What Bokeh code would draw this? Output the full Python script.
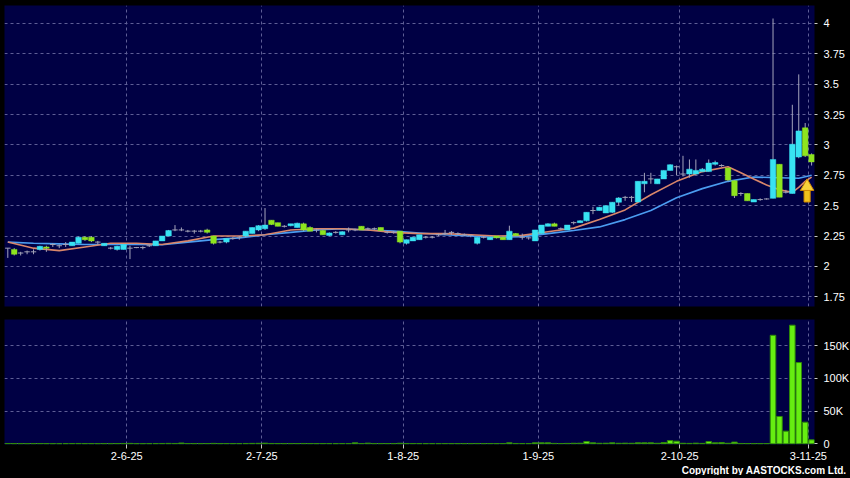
from bokeh.plotting import figure
from bokeh.layouts import column
from bokeh.models import Range1d, FixedTicker, CustomJSTickFormatter, Title, ColumnDataSource
from bokeh.embed import file_html
from bokeh.resources import INLINE

# ---------------- data ----------------
opens = [
    2.15, 2.14, 2.11, 2.12, 2.12, 2.14, 2.16, 2.18, 2.17, 2.18,
    2.17, 2.19, 2.24, 2.24, 2.20, 2.17, 2.15, 2.14, 2.14, 2.15,
    2.155, 2.155, 2.17, 2.17, 2.21, 2.25, 2.30, 2.30, 2.29, 2.29,
    2.29, 2.30, 2.25, 2.20, 2.20, 2.23, 2.24, 2.25, 2.27, 2.30,
    2.31, 2.38, 2.36, 2.33, 2.335, 2.32, 2.35, 2.32, 2.30, 2.295,
    2.255, 2.28, 2.26, 2.30, 2.30, 2.33, 2.31, 2.31, 2.32, 2.28,
    2.28, 2.29, 2.19, 2.21, 2.22, 2.24, 2.24, 2.26, 2.27, 2.28,
    2.27, 2.26, 2.255, 2.19, 2.24, 2.22, 2.25, 2.24, 2.22, 2.27,
    2.24, 2.235, 2.21, 2.27, 2.33, 2.35, 2.31, 2.30, 2.36, 2.36,
    2.375, 2.46, 2.46, 2.44, 2.445, 2.528, 2.568, 2.568, 2.53, 2.68,
    2.72, 2.68, 2.72, 2.79, 2.82, 2.76, 2.76, 2.76, 2.78, 2.78,
    2.84, 2.83, 2.81, 2.705, 2.60, 2.60, 2.53, 2.55, 2.555, 2.56,
    2.84, 2.61, 2.60, 2.90, 3.14, 2.92,
]
highs = [
    2.15, 2.15, 2.12, 2.13, 2.14, 2.17, 2.17, 2.19, 2.18, 2.20,
    2.20, 2.245, 2.25, 2.25, 2.21, 2.19, 2.16, 2.17, 2.18, 2.17,
    2.16, 2.165, 2.18, 2.21, 2.25, 2.30, 2.34, 2.32, 2.30, 2.30,
    2.30, 2.31, 2.25, 2.21, 2.23, 2.24, 2.25, 2.29, 2.32, 2.34,
    2.48, 2.38, 2.36, 2.34, 2.35, 2.36, 2.36, 2.33, 2.31, 2.30,
    2.28, 2.29, 2.29, 2.32, 2.31, 2.33, 2.32, 2.32, 2.32, 2.29,
    2.29, 2.29, 2.22, 2.24, 2.26, 2.25, 2.25, 2.27, 2.30, 2.29,
    2.28, 2.27, 2.26, 2.24, 2.25, 2.245, 2.25, 2.245, 2.335, 2.275,
    2.27, 2.24, 2.30, 2.34, 2.355, 2.36, 2.32, 2.34, 2.37, 2.38,
    2.445, 2.49, 2.49, 2.50, 2.53, 2.57, 2.58, 2.58, 2.70, 2.77,
    2.77, 2.72, 2.79, 2.84, 2.83, 2.91, 2.88, 2.88, 2.81, 2.88,
    2.87, 2.84, 2.81, 2.71, 2.61, 2.60, 2.55, 2.56, 2.56, 4.04,
    2.84, 2.63, 3.33, 3.58, 3.18, 2.93,
]
lows = [
    2.07, 2.09, 2.09, 2.10, 2.10, 2.13, 2.12, 2.16, 2.15, 2.16,
    2.17, 2.19, 2.21, 2.20, 2.18, 2.17, 2.14, 2.13, 2.14, 2.06,
    2.15, 2.14, 2.16, 2.17, 2.21, 2.25, 2.29, 2.29, 2.28, 2.27,
    2.28, 2.27, 2.18, 2.19, 2.19, 2.22, 2.22, 2.24, 2.27, 2.29,
    2.30, 2.34, 2.33, 2.32, 2.33, 2.32, 2.29, 2.29, 2.28, 2.26,
    2.25, 2.27, 2.26, 2.28, 2.29, 2.30, 2.30, 2.30, 2.29, 2.27,
    2.27, 2.19, 2.18, 2.21, 2.22, 2.23, 2.23, 2.25, 2.26, 2.26,
    2.26, 2.25, 2.24, 2.18, 2.23, 2.22, 2.23, 2.22, 2.22, 2.25,
    2.22, 2.22, 2.21, 2.27, 2.33, 2.33, 2.30, 2.30, 2.345, 2.36,
    2.37, 2.43, 2.46, 2.44, 2.44, 2.50, 2.54, 2.53, 2.53, 2.61,
    2.68, 2.68, 2.72, 2.79, 2.75, 2.74, 2.73, 2.76, 2.78, 2.78,
    2.83, 2.82, 2.70, 2.563, 2.58, 2.54, 2.53, 2.54, 2.55, 2.56,
    2.57, 2.60, 2.60, 2.89, 2.90, 2.83,
]
closes = [
    2.15, 2.10, 2.11, 2.12, 2.12, 2.165, 2.15, 2.18, 2.17, 2.18,
    2.20, 2.24, 2.22, 2.21, 2.20, 2.19, 2.15, 2.165, 2.18, 2.15,
    2.155, 2.155, 2.17, 2.21, 2.25, 2.295, 2.30, 2.30, 2.29, 2.29,
    2.29, 2.28, 2.19, 2.20, 2.23, 2.23, 2.24, 2.29, 2.32, 2.335,
    2.34, 2.345, 2.33, 2.33, 2.35, 2.355, 2.30, 2.29, 2.30, 2.26,
    2.275, 2.28, 2.286, 2.30, 2.30, 2.30, 2.31, 2.31, 2.295, 2.28,
    2.28, 2.20, 2.22, 2.24, 2.26, 2.24, 2.24, 2.26, 2.27, 2.28,
    2.27, 2.26, 2.255, 2.24, 2.24, 2.24, 2.235, 2.22, 2.29, 2.255,
    2.24, 2.235, 2.30, 2.34, 2.35, 2.33, 2.31, 2.34, 2.36, 2.375,
    2.445, 2.46, 2.486, 2.50, 2.528, 2.563, 2.568, 2.568, 2.70, 2.70,
    2.72, 2.72, 2.79, 2.836, 2.82, 2.76, 2.80, 2.79, 2.80, 2.85,
    2.855, 2.83, 2.71, 2.582, 2.60, 2.54, 2.55, 2.55, 2.555, 2.88,
    2.57, 2.61, 3.005, 3.115, 2.91, 2.86,
]
# volume in thousands of shares
volumes_k = [
    0.5, 0.3, 0.3, 0.2, 0.3, 0.4, 0.3, 0.2, 0.2, 0.3,
    0.4, 0.5, 0.3, 0.3, 0.2, 0.3, 0.2, 0.4, 0.5, 0.6,
    0.2, 0.2, 0.3, 0.4, 0.5, 0.6, 0.5, 1.2, 0.4, 0.3,
    0.3, 0.4, 0.6, 0.3, 0.4, 0.3, 0.3, 0.5, 0.6, 0.7,
    1.0, 0.5, 0.4, 0.3, 0.4, 0.4, 0.5, 0.4, 0.3, 0.4,
    0.4, 0.3, 0.4, 0.4, 1.5, 0.4, 1.0, 0.3, 0.4, 0.4,
    0.3, 0.8, 0.5, 0.4, 0.4, 0.3, 0.3, 0.3, 0.4, 0.3,
    0.3, 0.3, 0.3, 0.5, 0.3, 0.4, 0.3, 0.4, 1.5, 0.5,
    0.4, 0.4, 1.5, 1.5, 1.5, 0.6, 0.4, 0.6, 0.8, 0.9,
    3.5, 1.5, 0.8, 0.9, 1.5, 0.8, 1.0, 0.8, 1.5, 1.5,
    1.5, 0.8, 2.0, 5.0, 4.0, 0.8, 0.6, 1.0, 0.6, 3.5,
    1.5, 2.0, 0.8, 2.6, 0.5, 0.4, 0.3, 0.3, 0.4, 165.6,
    41.7, 19.3, 181.0, 124.0, 33.0, 6.0,
]
# short (orange) and long (blue) moving-average lines, read at sample days
ma_short_idx = [0, 4, 8, 12, 16, 20, 24, 28, 32, 36, 40, 44, 48, 52, 56, 60, 64, 68, 72,
                76, 80, 84, 88, 92, 96, 100, 104, 108, 112, 114, 116, 118, 120, 122, 123, 124, 125]
ma_short = [2.20, 2.15, 2.13, 2.16, 2.19, 2.19, 2.18, 2.21, 2.25, 2.25, 2.26, 2.30, 2.31, 2.31,
            2.30, 2.28, 2.27, 2.27, 2.26, 2.25, 2.255, 2.285, 2.315, 2.385, 2.465, 2.59, 2.70,
            2.78, 2.82, 2.77, 2.72, 2.67, 2.63, 2.61, 2.65, 2.70, 2.735]
ma_long_idx = [0, 4, 8, 12, 16, 20, 24, 28, 32, 36, 40, 44, 48, 52, 56, 60, 64, 68, 72,
               76, 80, 84, 88, 92, 96, 100, 104, 108, 112, 116, 120, 123, 125]
ma_long = [2.20, 2.19, 2.185, 2.18, 2.18, 2.18, 2.178, 2.20, 2.22, 2.235, 2.26, 2.28, 2.30,
           2.31, 2.30, 2.29, 2.275, 2.26, 2.25, 2.24, 2.245, 2.27, 2.295, 2.325, 2.385, 2.46,
           2.565, 2.64, 2.70, 2.735, 2.73, 2.725, 2.75]
month_labels = ["2-6-25", "2-7-25", "1-8-25", "1-9-25", "2-10-25", "3-11-25"]
month_first_idx = [19, 40, 62, 83, 105, 125]
price_ticks = [1.75, 2, 2.25, 2.5, 2.75, 3, 3.25, 3.5, 3.75, 4]
volume_ticks_k = [0, 50, 100, 150]
arrow_tip_price = 2.72
arrow_tail_price = 2.53

# ---------------- styling ----------------
NAVY = "#000044"
GRID = "#5e5e96"
UP = "#38e2f2"
DOWN = "#8ee41e"
DOJI = "#a0a0b4"
WICK = "#a4a4bc"
VOL = "#66ee11"
VOL_EDGE = "#2f8a08"
FONT = "Liberation Sans"

n = len(closes)
idx = list(range(n))
body_top = [max(o, c) for o, c in zip(opens, closes)]
body_bot = [min(o, c) for o, c in zip(opens, closes)]
colors = [UP if c > o else (DOWN if c < o else DOJI) for o, c in zip(opens, closes)]
is_doji = [o == c for o, c in zip(opens, closes)]

src = ColumnDataSource(dict(x=idx, o=opens, h=highs, l=lows, c=closes,
                            top=body_top, bot=body_bot, color=colors))
doji_src = ColumnDataSource(dict(
    x0=[i - 0.42 for i, d in zip(idx, is_doji) if d],
    x1=[i + 0.42 for i, d in zip(idx, is_doji) if d],
    y=[c for c, d in zip(closes, is_doji) if d]))
real_src = ColumnDataSource(dict(
    x=[i for i, d in zip(idx, is_doji) if not d],
    top=[t for t, d in zip(body_top, is_doji) if not d],
    bot=[b for b, d in zip(body_bot, is_doji) if not d],
    color=[col for col, d in zip(colors, is_doji) if not d]))

grid_x = [m - 0.5 for m in month_first_idx]
XR = (-0.513, 125.45)


def style_axis(ax):
    ax.axis_line_color = None
    ax.major_tick_line_color = "#c8c8c8"
    ax.major_tick_in = 0
    ax.minor_tick_line_color = None
    ax.major_label_text_color = "#ffffff"
    ax.major_label_text_font = FONT
    ax.major_label_text_font_size = "11px"


# ---------------- price panel ----------------
p1 = figure(frame_width=810, frame_height=301, output_backend="svg", toolbar_location=None,
            x_range=Range1d(*XR), y_range=Range1d(1.670, 4.147),
            x_axis_location=None, y_axis_location="right",
            min_border_left=0, min_border_top=0, min_border_right=0, min_border_bottom=13,
            background_fill_color=NAVY, border_fill_color="black", outline_line_color=None)
p1.xgrid.ticker = FixedTicker(ticks=grid_x)
p1.yaxis.ticker = FixedTicker(ticks=price_ticks)
p1.yaxis.formatter = CustomJSTickFormatter(code="return String(tick)")
style_axis(p1.yaxis[0])
p1.yaxis.major_tick_out = 7
p1.yaxis.major_tick_line_dash = "0 4 3 40"
p1.yaxis.major_label_standoff = 2
for g in p1.grid:
    g.grid_line_color = GRID
    g.grid_line_dash = "3 3"
    g.grid_line_width = 1

p1.line(ma_long_idx, ma_long, line_color="#4b9cf0", line_width=1.6)
p1.line(ma_short_idx, ma_short, line_color="#d9866a", line_width=1.6)
p1.segment(x0="x", y0="h", x1="x", y1="l", source=src, line_color=WICK, line_width=1)
p1.vbar(x="x", width=0.86, top="top", bottom="bot", source=real_src,
        fill_color="color", line_color="color", line_width=0.5)
p1.segment(x0="x0", y0="y", x1="x1", y1="y", source=doji_src, line_color=DOJI, line_width=1)

# arrow marker under the last session
ax_x = month_first_idx[-1] - 0.7
head_base = arrow_tip_price - 0.095
p1.vbar(x=[ax_x], width=0.95, top=[head_base], bottom=[arrow_tail_price],
        fill_color="#f2c21c", line_color="#d08a00", line_width=1)
p1.patch([ax_x - 1.05, ax_x, ax_x + 1.05], [head_base, arrow_tip_price, head_base],
         fill_color="#f7d23a", line_color="#d08a00", line_width=1)

# ---------------- volume panel ----------------
p2 = figure(frame_width=810, frame_height=125, output_backend="svg", toolbar_location=None,
            x_range=p1.x_range, y_range=Range1d(-1.07, 189.7),
            y_axis_location="right",
            min_border_left=0, min_border_top=0, min_border_right=0, min_border_bottom=0,
            background_fill_color=NAVY, border_fill_color="black", outline_line_color=None)
p2.xaxis.ticker = FixedTicker(ticks=grid_x)
p2.xaxis.formatter = CustomJSTickFormatter(
    args=dict(pos=grid_x, lab=month_labels),
    code="const k = pos.indexOf(tick); return k >= 0 ? lab[k] : '';")
style_axis(p2.xaxis[0])
p2.xaxis.major_tick_out = 4
p2.xaxis.major_label_standoff = 3
p2.yaxis.ticker = FixedTicker(ticks=volume_ticks_k)
p2.yaxis.formatter = CustomJSTickFormatter(code="return tick == 0 ? '0' : tick + 'K'")
style_axis(p2.yaxis[0])
p2.yaxis.major_tick_out = 7
p2.yaxis.major_tick_line_dash = "0 4 3 40"
p2.yaxis.major_label_standoff = 2
for g in p2.grid:
    g.grid_line_color = GRID
    g.grid_line_dash = "3 3"
    g.grid_line_width = 1

p2.vbar(x=idx, width=0.86, top=volumes_k, bottom=0,
        fill_color=VOL, line_color=VOL_EDGE, line_width=1)

p2.add_layout(Title(text="Copyright by AASTOCKS.com Ltd.", align="right", offset=-32,
                    text_color="#ffffff", text_font=FONT, text_font_size="10px",
                    text_font_style="bold", standoff=0), "below")

layout = column(p1, p2, styles={"margin-left": "4px", "margin-top": "5px",
                                "box-shadow": "0 0 0 40px #000000",
                                "background-color": "#000000"})

open("out.html", "w").write(file_html(layout, INLINE))
